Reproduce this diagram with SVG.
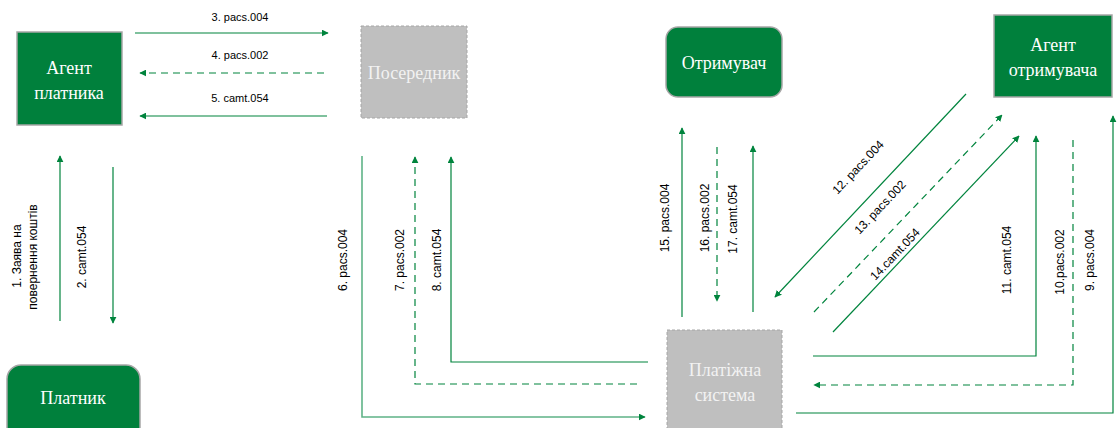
<svg xmlns="http://www.w3.org/2000/svg" width="1117" height="428" viewBox="0 0 1117 428">
<style>
.g{fill:#00803c;stroke:#a6a6a6;stroke-width:1.5}
.gr{fill:#bfbfbf;stroke:#a6a6a6;stroke-width:1;stroke-dasharray:3 2}
.nt{font-family:"Liberation Serif",serif;font-size:18px;fill:#ffffff;text-anchor:middle}
.nt2{font-family:"Liberation Serif",serif;font-size:18px;fill:#f2f2f2;text-anchor:middle}
.c{fill:none;stroke:#00843d;stroke-width:1.2}
.l{stroke:#5fb387;stroke-width:1.6}
.d{stroke-dasharray:7 5}
.lb{font-family:"Liberation Sans",Arial,sans-serif;font-size:12px;fill:#000;text-anchor:middle}
.lh{font-family:"Liberation Sans",Arial,sans-serif;font-size:11px;fill:#000;text-anchor:middle}
</style>
<defs>
<marker id="a" viewBox="0 0 10 10" refX="9" refY="5" markerWidth="7" markerHeight="7" markerUnits="userSpaceOnUse" orient="auto">
<path d="M0,0 L10,5 L0,10 z" fill="#00843d"/>
</marker>
</defs>
<rect width="1117" height="428" fill="#ffffff"/>
<g id="agent-payer"><rect class="g" x="17" y="32" width="105" height="93"/><text class="nt" x="69" y="74">Агент</text><text class="nt" x="69" y="99">платника</text></g>
<g id="intermediary"><rect class="gr" x="361" y="26" width="106" height="92"/><text class="nt2" x="414" y="79">Посередник</text></g>
<g id="payee"><rect class="g" x="666" y="27" width="116" height="70" rx="12"/><text class="nt" x="724" y="69">Отримувач</text></g>
<g id="agent-payee"><rect class="g" x="994" y="15" width="118" height="82"/><text class="nt" x="1053" y="51">Агент</text><text class="nt" x="1053" y="76">отримувача</text></g>
<g id="payer"><rect class="g" x="7" y="365" width="133" height="80" rx="14"/><text class="nt" x="73" y="404">Платник</text></g>
<g id="payment-system"><rect class="gr" x="667" y="330" width="115" height="110"/><text class="nt2" x="725" y="376">Платіжна</text><text class="nt2" x="725" y="401">система</text></g>
<g id="connectors">
<line class="c" x1="135" y1="33" x2="328" y2="33" marker-end="url(#a)"/>
<line class="c d" x1="324" y1="73" x2="140" y2="73" marker-end="url(#a)"/>
<line class="c" x1="327" y1="116" x2="140" y2="116" marker-end="url(#a)"/>
<line class="c" x1="60" y1="321" x2="60" y2="156" marker-end="url(#a)"/>
<line class="c" x1="113" y1="167" x2="113" y2="323" marker-end="url(#a)"/>
<polyline class="c l" points="362,156 362,417 645,417" marker-end="url(#a)"/>
<polyline class="c d" points="637,384 415,384 415,157" marker-end="url(#a)"/>
<polyline class="c" points="648,362 451,362 451,157" marker-end="url(#a)"/>
<line class="c" x1="682" y1="317" x2="682" y2="128" marker-end="url(#a)"/>
<line class="c d" x1="717" y1="147" x2="717" y2="301" marker-end="url(#a)"/>
<line class="c" x1="753" y1="312" x2="753" y2="146" marker-end="url(#a)"/>
<line class="c" x1="966" y1="94" x2="775" y2="297" marker-end="url(#a)"/>
<line class="c d" x1="814" y1="312" x2="1002" y2="115" marker-end="url(#a)"/>
<line class="c" x1="833" y1="332" x2="1019" y2="136" marker-end="url(#a)"/>
<polyline class="c" points="813,356 1036,356 1036,136" marker-end="url(#a)"/>
<polyline class="c d" points="1073,140 1073,385 814,385" marker-end="url(#a)"/>
<polyline class="c" points="796,413 1113,413 1113,116" marker-end="url(#a)"/>
</g>
<g id="labels">
<text class="lh" x="240" y="21">3. pacs.004</text>
<text class="lh" x="240" y="59">4. pacs.002</text>
<text class="lh" x="240" y="102">5. camt.054</text>
<text class="lb" transform="translate(21,256) rotate(-90)">1. Заява на</text>
<text class="lb" transform="translate(37,257) rotate(-90)">повернення коштів</text>
<text class="lb" transform="translate(86,257) rotate(-90)">2. camt.054</text>
<text class="lb" transform="translate(347,260) rotate(-90)">6. pacs.004</text>
<text class="lb" transform="translate(404,260) rotate(-90)">7. pacs.002</text>
<text class="lb" transform="translate(441,260) rotate(-90)">8. camt.054</text>
<text class="lb" transform="translate(669,218) rotate(-90)">15. pacs.004</text>
<text class="lb" transform="translate(709,218) rotate(-90)">16. pacs.002</text>
<text class="lb" transform="translate(737,219) rotate(-90)">17. camt.054</text>
<text class="lb" transform="translate(861,170) rotate(-46.6)">12. pacs.004</text>
<text class="lb" transform="translate(883,210) rotate(-46.6)">13. pacs.002</text>
<text class="lb" transform="translate(898,257) rotate(-46.6)">14.camt.054</text>
<text class="lb" transform="translate(1011,260) rotate(-90)">11. camt.054</text>
<text class="lb" transform="translate(1064,262) rotate(-90)">10.pacs.002</text>
<text class="lb" transform="translate(1094,260) rotate(-90)">9. pacs.004</text>
</g>
</svg>
